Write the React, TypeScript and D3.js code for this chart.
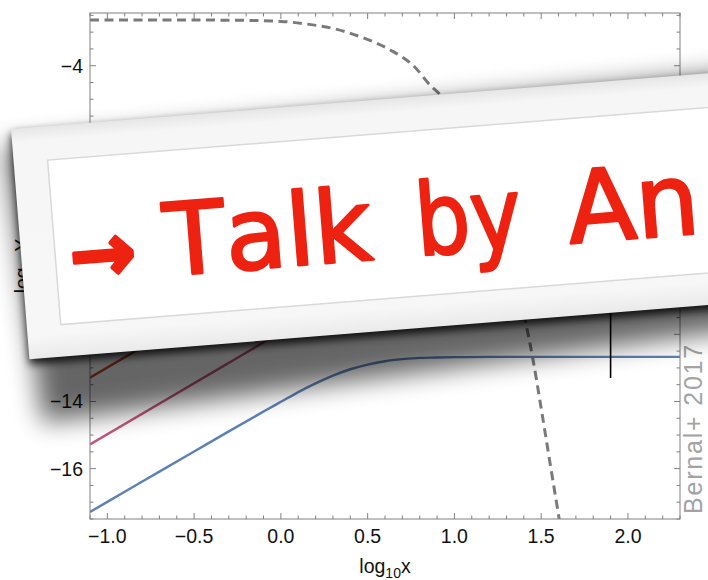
import React from 'react';
import * as d3 from 'd3';

// ---- data ----
const blueX = [-1.1, -0.9, -0.7, -0.5, -0.3, -0.1, 0.0, 0.1, 0.2, 0.3, 0.4, 0.5, 0.6, 0.7, 0.8, 0.9, 1.0, 1.2, 2.3];
const blueY = [-17.29, -16.69, -16.09, -15.49, -14.89, -14.3, -14.01, -13.72, -13.46, -13.23, -13.04, -12.9, -12.8, -12.74, -12.7, -12.69, -12.68, -12.67, -12.67];
const pinkX = [-1.1, 0.6];
const pinkY = [-15.28, -10.11];
const redX = [-1.1, 0.0];
const redY = [-13.29, -9.95];
const dashX = [-1.1, -0.5, -0.2, 0.0, 0.15, 0.3, 0.48, 0.63, 0.77, 0.86, 0.91, 1.0, 1.1, 1.2, 1.3, 1.41, 1.45, 1.5, 1.55, 1.605, 1.65];
const dashY = [-2.64, -2.64, -2.65, -2.68, -2.76, -2.89, -3.18, -3.53, -4.03, -4.58, -4.82, -5.45, -6.45, -7.75, -9.45, -11.63, -12.67, -14.2, -15.8, -17.54, -19.0];
const markX = [1.9, 1.9];
const markY = [-11.0, -13.3];

const xTickValues = [-1.0, -0.5, 0.0, 0.5, 1.0, 1.5, 2.0];
const xTickLabels = ['−1.0', '−0.5', '0.0', '0.5', '1.0', '1.5', '2.0'];
const yTickValues = [-16, -14, -12, -10, -8, -6, -4];
const yTickLabels = ['−16', '−14', '−12', '−10', '−8', '−6', '−4'];
const xDomain = [-1.1, 2.3];
const yDomain = [-17.5, -2.43];
const bannerWords = ['→', 'Talk', 'by', 'An'];
const creditText = 'Bernal+ 2017';

const W = 708;
const H = 580;
const L = 90, R = 680, T = 13, B = 519;
const frameColor = '#808080';
const tickFont = "'Liberation Sans', Arial, sans-serif";

export default function App() {
  const x = d3.scaleLinear().domain(xDomain).range([L, R]);
  const y = d3.scaleLinear().domain(yDomain).range([B, T]);
  const line = (xs: number[], ys: number[], curve = d3.curveLinear) =>
    d3.line<number>().x((d, i) => x(xs[i])).y((d, i) => y(ys[i])).curve(curve)(xs) || '';

  const xMinor = d3.range(-11, 24).map((i) => i / 10);
  const yMinor = d3.range(-35, -4).map((i) => i / 2);

  const ticks: JSX.Element[] = [];
  xMinor.forEach((v, i) => {
    const major = xTickValues.some((m) => Math.abs(m - v) < 1e-6);
    const len = major ? 6 : 3.5;
    ticks.push(<line key={'xb' + i} x1={x(v)} x2={x(v)} y1={B} y2={B - len} stroke={frameColor} strokeWidth={1} />);
    ticks.push(<line key={'xt' + i} x1={x(v)} x2={x(v)} y1={T} y2={T + len} stroke={frameColor} strokeWidth={1} />);
  });
  yMinor.forEach((v, i) => {
    const major = yTickValues.some((m) => Math.abs(m - v) < 1e-6);
    const len = major ? 6 : 3.5;
    ticks.push(<line key={'yl' + i} x1={L} x2={L + len} y1={y(v)} y2={y(v)} stroke={frameColor} strokeWidth={1} />);
    ticks.push(<line key={'yr' + i} x1={R} x2={R - len} y1={y(v)} y2={y(v)} stroke={frameColor} strokeWidth={1} />);
  });

  const textU = [48.5, 143.8, 395.6, 548.1];
  const textLen = [66, 208, 106, 0];

  return (
    <svg width={W} height={H} style={{ position: 'absolute', left: 0, top: 0, background: '#fff' }}>
      <defs>
        <clipPath id="plotClip">
          <rect x={L} y={T} width={R - L} height={B - T} />
        </clipPath>
        <filter id="blurBig" x="-20%" y="-40%" width="140%" height="180%">
          <feGaussianBlur stdDeviation="13" />
        </filter>
        <filter id="blurSmall" x="-20%" y="-40%" width="140%" height="180%">
          <feGaussianBlur stdDeviation="4" />
        </filter>
        <linearGradient id="frameGrad" gradientUnits="userSpaceOnUse" x1="0" y1="0" x2="0" y2="231">
          <stop offset="0" stopColor="#e6e6e6" />
          <stop offset="0.06" stopColor="#f6f6f6" />
          <stop offset="0.9" stopColor="#f7f7f7" />
          <stop offset="1" stopColor="#eaeaea" />
        </linearGradient>
      </defs>
      <rect x={0} y={0} width={W} height={H} fill="#fff" />

      {/* curves */}
      <g clipPath="url(#plotClip)" fill="none">
        <path d={line(redX, redY)} stroke="#c94a2c" strokeWidth={2.4} />
        <path d={line(pinkX, pinkY)} stroke="#c4567b" strokeWidth={2.4} />
        <path d={line(blueX, blueY, d3.curveMonotoneX)} stroke="#5e81b5" strokeWidth={2.4} />
        <path d={line(dashX, dashY, d3.curveMonotoneX)} stroke="#7a7a7a" strokeWidth={3} strokeDasharray="9,5.5" />
        <path d={line(markX, markY)} stroke="#000" strokeWidth={1.6} />
      </g>

      {/* frame */}
      <rect x={L} y={T} width={R - L} height={B - T} fill="none" stroke={frameColor} strokeWidth={1} />
      {ticks}
      <g fontFamily={tickFont} fontSize={19.5} fill="#111">
        {xTickValues.map((v, i) => (
          <text key={'xl' + i} x={x(v)} y={543} textAnchor="middle">{xTickLabels[i]}</text>
        ))}
        {yTickValues.map((v, i) => (
          <text key={'yl' + i} x={83} y={y(v)} textAnchor="end" dominantBaseline="central">{yTickLabels[i]}</text>
        ))}
        <text x={385} y={573} textAnchor="middle">
          log<tspan fontSize={14} dy={5}>10</tspan><tspan dy={-5}>x</tspan>
        </text>
        <text transform="translate(29,266) rotate(-90)" textAnchor="middle">
          log<tspan fontSize={14} dy={5}>10</tspan><tspan dy={-5}>Y</tspan>
        </text>
      </g>

      <text transform="translate(702,514) rotate(-90)" fontFamily={tickFont} fontSize={25} letterSpacing={1.8} fill="#a3a3a3">{creditText}</text>

      {/* banner */}
      <g transform="translate(11,129) rotate(-4.57)">
        <path d="M-8,16 L820,0 L820,252 L8,295 Z" fill="#000" opacity={0.6} filter="url(#blurBig)" />
        <rect x={0} y={5} width={820} height={231} fill="#000" opacity={0.85} filter="url(#blurSmall)" />
        <rect x={0} y={0} width={820} height={231} fill="url(#frameGrad)" />
        <rect x={34} y={34} width={820} height={165} fill="#fff" stroke="#d9d9d9" strokeWidth={1.5} />
        <text y={158.8} fontFamily="'DejaVu Sans', sans-serif" fontSize={100} fill="#ee2211" stroke="#ee2211"
          strokeWidth={2.5} strokeLinejoin="round" style={{ fontKerning: 'none' }}>
          {bannerWords.map((w, i) => (
            <React.Fragment key={i}>
              {i > 0 ? ' ' : null}
              <tspan x={textU[i]} fontSize={i === 0 ? 80 : 100} fontWeight={i === 0 ? 'bold' : 'normal'}
                strokeWidth={i === 0 ? 4 : 2.5}
                {...(textLen[i] ? { textLength: textLen[i], lengthAdjust: 'spacingAndGlyphs' } : {})}>{w}</tspan>
            </React.Fragment>
          ))}
        </text>
      </g>
    </svg>
  );
}
